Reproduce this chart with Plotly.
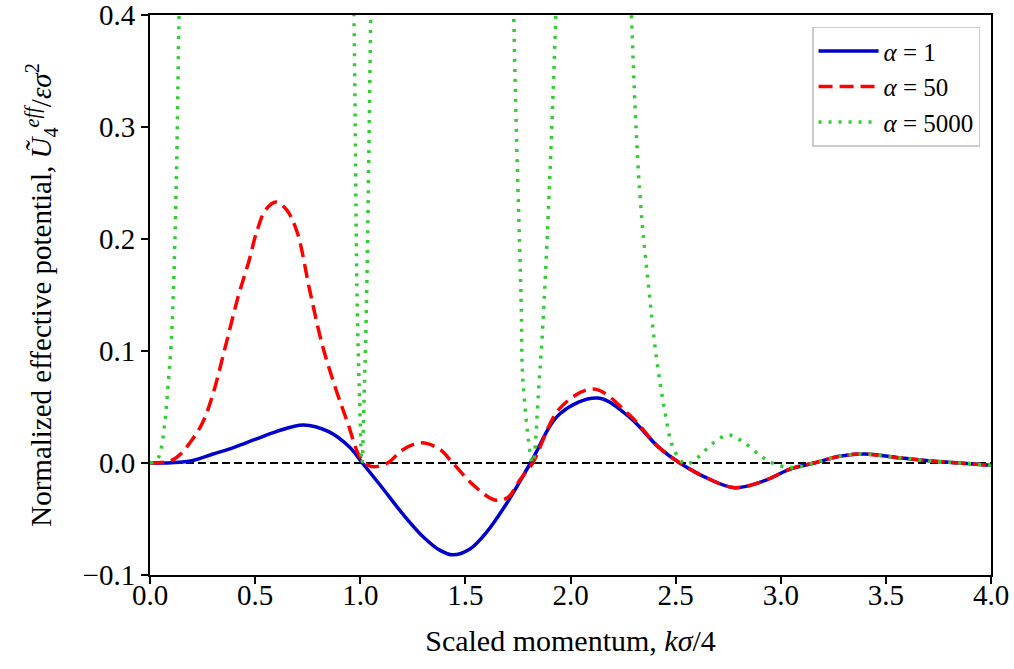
import plotly.graph_objects as go

# values
x_blue = [0, 0.1, 0.2, 0.3, 0.4, 0.5, 0.6, 0.73, 0.85, 0.95, 1.01, 1.1, 1.2, 1.3, 1.38,
          1.44, 1.52, 1.6, 1.7, 1.81, 1.95, 2.13, 2.28, 2.42, 2.52, 2.65, 2.78, 2.92,
          3.05, 3.16, 3.28, 3.4, 3.55, 3.7, 3.85, 4.0]
y_blue = [0, 0.0003, 0.002, 0.008, 0.014, 0.021, 0.028, 0.034, 0.028, 0.014, 0.0, -0.021,
          -0.045, -0.066, -0.078, -0.082, -0.077, -0.062, -0.035, 0.0, 0.044, 0.058,
          0.041, 0.014, 0.0, -0.0135, -0.022, -0.016, -0.005, 0.0, 0.006, 0.008, 0.005,
          0.002, 0.0, -0.002]

x_red = [0, 0.1, 0.14, 0.19, 0.25, 0.3, 0.36, 0.42, 0.47, 0.51, 0.55, 0.6, 0.65, 0.7,
         0.76, 0.82, 0.89, 0.94, 1.0, 1.05, 1.13, 1.2, 1.29, 1.38, 1.44, 1.54, 1.64,
         1.7, 1.76, 1.82, 1.95, 2.11, 2.28, 2.42, 2.52, 2.65, 2.78, 2.92, 3.05, 3.16,
         3.28, 3.4, 3.55, 3.7, 3.85, 4.0]
y_red = [0, 0.002, 0.007, 0.018, 0.036, 0.062, 0.105, 0.149, 0.18, 0.208, 0.226, 0.233,
         0.226, 0.206, 0.154, 0.105, 0.0625, 0.036, 0.005, -0.003, 0.0, 0.0116, 0.018,
         0.012, 0.0, -0.02, -0.033, -0.031, -0.015, 0.0, 0.049, 0.066, 0.043, 0.014,
         0.0, -0.0135, -0.022, -0.016, -0.005, 0.0, 0.006, 0.008, 0.005, 0.002, 0.0,
         -0.002]

# alpha = 5000 goes far off the top of the axes; those parts are clipped
x_green = [0, 0.02, 0.043, 0.07, 0.086, 0.1, 0.11, 0.125, 0.138, 0.16, 0.3, 0.55, 0.8,
           0.93, 0.97, 0.985, 0.995, 1.008, 1.02, 1.03, 1.05, 1.08, 1.3, 1.5, 1.65,
           1.73, 1.765, 1.775, 1.82, 1.85, 1.875, 1.93, 1.98, 2.1, 2.22, 2.29, 2.33,
           2.37, 2.41, 2.45, 2.48, 2.52, 2.55, 2.6, 2.68, 2.75, 2.82, 2.9, 2.96, 3.04,
           3.1, 3.16, 3.28, 3.4, 3.55, 3.7, 3.85, 4.0]
y_green = [0, 0.001, 0.006, 0.035, 0.07, 0.105, 0.146, 0.25, 0.4, 0.65, 2.0, 3.5, 2.0,
           0.8, 0.4, 0.146, 0.07, 0.0, 0.07, 0.146, 0.4, 0.8, 2.5, 3.0, 1.5, 0.4, 0.146,
           0.07, 0.0, 0.07, 0.146, 0.4, 0.8, 1.5, 0.9, 0.4, 0.24, 0.16, 0.092, 0.045,
           0.018, 0.003, -0.001, 0.004, 0.018, 0.025, 0.019, 0.007, 0.0, -0.004, -0.003,
           0.0, 0.006, 0.008, 0.005, 0.002, 0.0, -0.002]

x_zero = [0, 4]
y_zero = [0, 0]

x_ticks = [0.0, 0.5, 1.0, 1.5, 2.0, 2.5, 3.0, 3.5, 4.0]
y_ticks = [-0.1, 0.0, 0.1, 0.2, 0.3, 0.4]

font = "Liberation Serif"

fig = go.Figure()
fig.add_trace(go.Scatter(x=x_zero, y=y_zero, mode='lines', showlegend=False,
                         line=dict(color='black', width=2, dash='8px,4px')))
fig.add_trace(go.Scatter(x=x_blue, y=y_blue, mode='lines', name='<i>α</i> = 1',
                         line=dict(color='#0000cd', width=3.5, shape='spline')))
fig.add_trace(go.Scatter(x=x_red, y=y_red, mode='lines', name='<i>α</i> = 50',
                         line=dict(color='#ff0000', width=3.5, dash='14px,7px', shape='spline')))
fig.add_trace(go.Scatter(x=x_green, y=y_green, mode='lines', name='<i>α</i> = 5000',
                         line=dict(color='#32cd32', width=3.5, dash='3px,7px', shape='spline')))

axis_style = dict(showline=True, linecolor='black', linewidth=2, mirror=True,
                  ticks='outside', ticklen=7, tickwidth=1.5, tickcolor='black',
                  showgrid=False, zeroline=False, tickformat='.1f', automargin=False,
                  ticklabeloverflow='allow',
                  tickfont=dict(family=font, size=29, color='black'))

fig.update_xaxes(range=[0, 4], tickvals=x_ticks, ticklabelstandoff=-14,
                 title=dict(text='Scaled momentum, <i>kσ</i>/4',
                            font=dict(family=font, size=30, color='black'), standoff=20),
                 **axis_style)
fig.update_yaxes(range=[-0.1, 0.4], tickvals=y_ticks,
                 title=dict(text='Normalized effective potential, '
                                 '<i>Ũ</i><sub>4</sub><sup><i>eff</i></sup>/<i>εσ</i><sup>2</sup>',
                            font=dict(family=font, size=29, color='black'), standoff=22),
                 **axis_style)

fig.update_layout(width=1014, height=669, plot_bgcolor='white', paper_bgcolor='white',
                  font=dict(family=font, size=25, color='black'),
                  margin=dict(l=150, r=23, t=15, b=94, autoexpand=False),
                  legend=dict(x=0.987, y=0.979, xanchor='right', yanchor='top',
                              bgcolor='white', bordercolor='#cccccc', borderwidth=1.5,
                              itemwidth=60, tracegroupgap=0,
                              font=dict(family=font, size=25, color='black')))

# drop the default 8px page margin so the figure sits at the window corner
fig.write_html("out.html", config={'displayModeBar': False},
               post_script="document.body.style.margin = '0';")
